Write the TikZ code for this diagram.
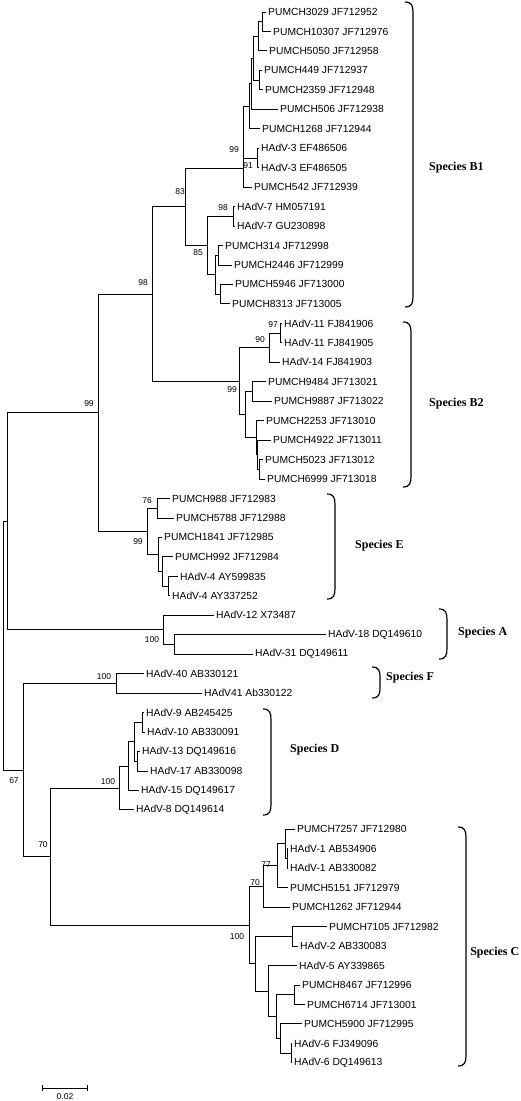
\documentclass[tikz,border=0pt]{standalone}
\usepackage{fontspec}
\setmainfont{Liberation Sans}
\newfontfamily\spserif{Liberation Serif}
\begin{document}
\begin{tikzpicture}[x=1pt,y=-1pt,
  leaf/.style={anchor=west, inner xsep=2pt, inner ysep=0pt, font=\fontsize{10.3}{12}\selectfont},
  bs/.style={inner sep=0pt, font=\fontsize{8.5}{10}\selectfont},
  sp/.style={anchor=west, inner sep=0pt, font=\spserif\bfseries\fontsize{12}{14}\selectfont},
  edge/.style={line width=0.9pt},
  brk/.style={line width=1.2pt}]
\useasboundingbox (0,0) rectangle (520,1101);
% ---------- leaves ----------
\node[leaf] (L0) at (266,12.00) {PUMCH3029 JF712952};
\node[leaf] (L1) at (271,31.46) {PUMCH10307 JF712976};
\node[leaf] (L2) at (267,50.92) {PUMCH5050 JF712958};
\node[leaf] (L3) at (262,70.38) {PUMCH449 JF712937};
\node[leaf] (L4) at (263,89.84) {PUMCH2359 JF712948};
\node[leaf] (L5) at (278,109.30) {PUMCH506 JF712938};
\node[leaf] (L6) at (260,128.76) {PUMCH1268 JF712944};
\node[leaf] (L7) at (259,148.22) {HAdV-3 EF486506};
\node[leaf] (L8) at (259,167.68) {HAdV-3 EF486505};
\node[leaf] (L9) at (252,187.14) {PUMCH542 JF712939};
\node[leaf] (L10) at (235,206.60) {HAdV-7 HM057191};
\node[leaf] (L11) at (235,226.06) {HAdV-7 GU230898};
\node[leaf] (L12) at (223,245.52) {PUMCH314 JF712998};
\node[leaf] (L13) at (232,264.98) {PUMCH2446 JF712999};
\node[leaf] (L14) at (233,284.44) {PUMCH5946 JF713000};
\node[leaf] (L15) at (230,303.90) {PUMCH8313 JF713005};
\node[leaf] (L16) at (282,323.36) {HAdV-11 FJ841906};
\node[leaf] (L17) at (282,342.82) {HAdV-11 FJ841905};
\node[leaf] (L18) at (280,362.28) {HAdV-14 FJ841903};
\node[leaf] (L19) at (266,381.74) {PUMCH9484 JF713021};
\node[leaf] (L20) at (272,401.20) {PUMCH9887 JF713022};
\node[leaf] (L21) at (264,420.66) {PUMCH2253 JF713010};
\node[leaf] (L22) at (271,440.12) {PUMCH4922 JF713011};
\node[leaf] (L23) at (263,459.58) {PUMCH5023 JF713012};
\node[leaf] (L24) at (265,479.04) {PUMCH6999 JF713018};
\node[leaf] (L25) at (170,498.50) {PUMCH988 JF712983};
\node[leaf] (L26) at (174,517.96) {PUMCH5788 JF712988};
\node[leaf] (L27) at (162,537.42) {PUMCH1841 JF712985};
\node[leaf] (L28) at (173,556.88) {PUMCH992 JF712984};
\node[leaf] (L29) at (178,576.34) {HAdV-4 AY599835};
\node[leaf] (L30) at (170,595.80) {HAdV-4 AY337252};
\node[leaf] (L31) at (214,615.26) {HAdV-12 X73487};
\node[leaf] (L32) at (326,634.72) {HAdV-18 DQ149610};
\node[leaf] (L33) at (253,654.18) {HAdV-31 DQ149611};
\node[leaf] (L34) at (144,673.64) {HAdV-40 AB330121};
\node[leaf] (L35) at (202,693.10) {HAdV41 Ab330122};
\node[leaf] (L36) at (144,712.56) {HAdV-9 AB245425};
\node[leaf] (L37) at (145,732.02) {HAdV-10 AB330091};
\node[leaf] (L38) at (140,751.48) {HAdV-13 DQ149616};
\node[leaf] (L39) at (148,770.94) {HAdV-17 AB330098};
\node[leaf] (L40) at (139,790.40) {HAdV-15 DQ149617};
\node[leaf] (L41) at (134,809.86) {HAdV-8 DQ149614};
\node[leaf] (L42) at (295,829.32) {PUMCH7257 JF712980};
\node[leaf] (L43) at (288,848.78) {HAdV-1 AB534906};
\node[leaf] (L44) at (288,868.24) {HAdV-1 AB330082};
\node[leaf] (L45) at (288,887.70) {PUMCH5151 JF712979};
\node[leaf] (L46) at (290,907.16) {PUMCH1262 JF712944};
\node[leaf] (L47) at (327,926.62) {PUMCH7105 JF712982};
\node[leaf] (L48) at (298,946.08) {HAdV-2 AB330083};
\node[leaf] (L49) at (297,965.54) {HAdV-5 AY339865};
\node[leaf] (L50) at (300,985.00) {PUMCH8467 JF712996};
\node[leaf] (L51) at (305,1004.46) {PUMCH6714 JF713001};
\node[leaf] (L52) at (302,1023.92) {PUMCH5900 JF712995};
\node[leaf] (L53) at (292,1043.38) {HAdV-6 FJ349096};
\node[leaf] (L54) at (292,1062.84) {HAdV-6 DQ149613};
% ---------- internal nodes ----------
\coordinate (a1) at (262,21.73);
\coordinate (a2) at (258,36.33);
\coordinate (a3) at (259,80.11);
\coordinate (a4) at (253,58.22);
\coordinate (a5) at (251,83.76);
\coordinate (a6) at (249,106.26);
\coordinate (c3) at (257,157.95);
\coordinate (a7) at (243,168);
\coordinate (c7) at (233,216.33);
\coordinate (n10) at (218,255.25);
\coordinate (n11) at (220,294.17);
\coordinate (n9) at (215,274.71);
\coordinate (n85) at (207,245.52);
\coordinate (B1) at (185,206.76);
\coordinate (c11) at (280,333.09);
\coordinate (n90) at (269,347.69);
\coordinate (n5) at (252,391.47);
\coordinate (n8) at (259,469.31);
\coordinate (n7) at (257,454.72);
\coordinate (n6) at (256,437.69);
\coordinate (n4) at (245,414.58);
\coordinate (B2) at (239,381.14);
\coordinate (B) at (152,293.95);
\coordinate (e76) at (157,508.23);
\coordinate (n3) at (168,586.07);
\coordinate (n2) at (162,571.48);
\coordinate (n1) at (158,554.45);
\coordinate (E) at (147,531.34);
\coordinate (BE) at (98,412.65);
\coordinate (Asub) at (174,644.45);
\coordinate (A) at (163,629.86);
\coordinate (BEA) at (7,521.26);
\coordinate (F) at (116,683.37);
\coordinate (n19) at (142,722.29);
\coordinate (n20) at (137,761.21);
\coordinate (n18) at (134,741.75);
\coordinate (n17) at (128,766.08);
\coordinate (D) at (119,787.97);
\coordinate (c1) at (287,858.51);
\coordinate (s1) at (285,843.92);
\coordinate (n77) at (277,865.81);
\coordinate (n70) at (263,886.49);
\coordinate (c2) at (292,936.35);
\coordinate (c6) at (291,1053.11);
\coordinate (n16) at (280,1038.52);
\coordinate (n15) at (294,994.73);
\coordinate (n14) at (276,1016.63);
\coordinate (n13) at (268,991.09);
\coordinate (n12) at (255,963.72);
\coordinate (C) at (249,925.11);
\coordinate (DC) at (50,856.54);
\coordinate (FDC) at (23,769.96);
\coordinate (root) at (3,645.61);
% ---------- branches ----------
\draw[edge] (a1) |- (L0.west) (a1) |- (L1.west);
\draw[edge] (a2) |- (a1) (a2) |- (L2.west);
\draw[edge] (a3) |- (L3.west) (a3) |- (L4.west);
\draw[edge] (a4) |- (a2) (a4) |- (a3);
\draw[edge] (a5) |- (a4) (a5) |- (L5.west);
\draw[edge] (a6) |- (a5) (a6) |- (L6.west);
\draw[edge] (c3) |- (L7.west) (c3) |- (L8.west);
\draw[edge] (a7) |- (a6) (a7) |- (c3) (a7) |- (L9.west);
\draw[edge] (c7) |- (L10.west) (c7) |- (L11.west);
\draw[edge] (n10) |- (L12.west) (n10) |- (L13.west);
\draw[edge] (n11) |- (L14.west) (n11) |- (L15.west);
\draw[edge] (n9) |- (n10) (n9) |- (n11);
\draw[edge] (n85) |- (c7) (n85) |- (n9);
\draw[edge] (B1) |- (a7) (B1) |- (n85);
\draw[edge] (c11) |- (L16.west) (c11) |- (L17.west);
\draw[edge] (n90) |- (c11) (n90) |- (L18.west);
\draw[edge] (n5) |- (L19.west) (n5) |- (L20.west);
\draw[edge] (n8) |- (L23.west) (n8) |- (L24.west);
\draw[edge] (n7) |- (L22.west) (n7) |- (n8);
\draw[edge] (n6) |- (L21.west) (n6) |- (n7);
\draw[edge] (n4) |- (n5) (n4) |- (n6);
\draw[edge] (B2) |- (n90) (B2) |- (n4);
\draw[edge] (B) |- (B1) (B) |- (B2);
\draw[edge] (e76) |- (L25.west) (e76) |- (L26.west);
\draw[edge] (n3) |- (L29.west) (n3) |- (L30.west);
\draw[edge] (n2) |- (L28.west) (n2) |- (n3);
\draw[edge] (n1) |- (L27.west) (n1) |- (n2);
\draw[edge] (E) |- (e76) (E) |- (n1);
\draw[edge] (BE) |- (B) (BE) |- (E);
\draw[edge] (Asub) |- (L32.west) (Asub) |- (L33.west);
\draw[edge] (A) |- (L31.west) (A) |- (Asub);
\draw[edge] (BEA) |- (BE) (BEA) |- (A);
\draw[edge] (F) |- (L34.west) (F) |- (L35.west);
\draw[edge] (n19) |- (L36.west) (n19) |- (L37.west);
\draw[edge] (n20) |- (L38.west) (n20) |- (L39.west);
\draw[edge] (n18) |- (n19) (n18) |- (n20);
\draw[edge] (n17) |- (n18) (n17) |- (L40.west);
\draw[edge] (D) |- (n17) (D) |- (L41.west);
\draw[edge] (c1) |- (L43.west) (c1) |- (L44.west);
\draw[edge] (s1) |- (L42.west) (s1) |- (c1);
\draw[edge] (n77) |- (s1) (n77) |- (L45.west);
\draw[edge] (n70) |- (n77) (n70) |- (L46.west);
\draw[edge] (c2) |- (L47.west) (c2) |- (L48.west);
\draw[edge] (c6) |- (L53.west) (c6) |- (L54.west);
\draw[edge] (n16) |- (L52.west) (n16) |- (c6);
\draw[edge] (n15) |- (L50.west) (n15) |- (L51.west);
\draw[edge] (n14) |- (n15) (n14) |- (n16);
\draw[edge] (n13) |- (L49.west) (n13) |- (n14);
\draw[edge] (n12) |- (c2) (n12) |- (n13);
\draw[edge] (C) |- (n70) (C) |- (n12);
\draw[edge] (DC) |- (D) (DC) |- (C);
\draw[edge] (FDC) |- (F) (FDC) |- (DC);
\draw[edge] (root) |- (BEA) (root) |- (FDC);
% ---------- bootstrap values ----------
\node[bs] (b1) at (234,150) {99};
\node[bs] (b2) at (248,166) {91};
\node[bs] (b3) at (180,192) {83};
\node[bs] (b4) at (198,253) {85};
\node[bs] (b5) at (223,208) {98};
\node[bs] (b6) at (143,283) {98};
\node[bs] (b7) at (273,325) {97};
\node[bs] (b8) at (260,340) {90};
\node[bs] (b9) at (232,390) {99};
\node[bs] (b10) at (89,404) {99};
\node[bs] (b11) at (147,501) {76};
\node[bs] (b12) at (138,542) {99};
\node[bs] (b13) at (152,640) {100};
\node[bs] (b14) at (104,677) {100};
\node[bs] (b15) at (108,782) {100};
\node[bs] (b16) at (14,781) {67};
\node[bs] (b17) at (43,845) {70};
\node[bs] (b18) at (255,883) {70};
\node[bs] (b19) at (266,865) {77};
\node[bs] (b20) at (237,937) {100};
% ---------- species brackets ----------
\draw[brk] (405,2) .. controls (412,2) and (413,6) .. (413,13) -- (413,296) .. controls (413,303) and (412,307) .. (405,307);
\node[sp] (sB1) at (429,168) {Species B1};
\draw[brk] (403,322) .. controls (410,322) and (411,326) .. (411,333) -- (411,476) .. controls (411,483) and (410,487) .. (403,487);
\node[sp] (sB2) at (429,404) {Species B2};
\draw[brk] (327,494) .. controls (334,494) and (335,498) .. (335,505) -- (335,588) .. controls (335,595) and (334,599) .. (327,599);
\node[sp] (sE) at (355,546) {Species E};
\draw[brk] (439,609) .. controls (446,609) and (447,613) .. (447,620) -- (447,648) .. controls (447,655) and (446,659) .. (439,659);
\node[sp] (sA) at (458,633) {Species A};
\draw[brk] (372,667) .. controls (379,667) and (380,671) .. (380,677) -- (380,688) .. controls (380,694) and (379,698) .. (372,698);
\node[sp] (sF) at (386,678) {Species F};
\draw[brk] (263,709) .. controls (270,709) and (271,713) .. (271,720) -- (271,804) .. controls (271,811) and (270,815) .. (263,815);
\node[sp] (sD) at (290,750) {Species D};
\draw[brk] (458,827) .. controls (465,827) and (466,831) .. (466,838) -- (466,1055) .. controls (466,1062) and (465,1066) .. (458,1066);
\node[sp, anchor=east] (sC) at (519.5,953) {Species C};
% ---------- scale bar ----------
\coordinate (sbl) at (42,1088);
\coordinate (sbr) at (87,1088);
\draw[edge] (sbl) -- (sbr);
\draw[edge] ([yshift=-3pt]sbl) -- ([yshift=3pt]sbl);
\draw[edge] ([yshift=-3pt]sbr) -- ([yshift=3pt]sbr);
\node[bs] (sbt) at (65,1097) {0.02};
\end{tikzpicture}
\end{document}
